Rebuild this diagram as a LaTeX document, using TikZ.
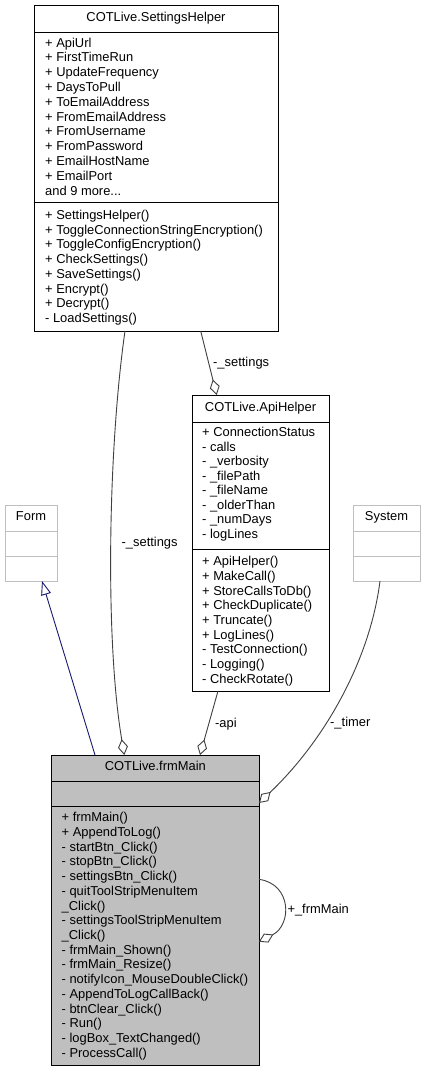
\documentclass[tikz,border=0pt]{standalone}
\usepackage{fontspec}
\setmainfont{Liberation Sans}
\usetikzlibrary{arrows.meta,calc}
\definecolor{edgegray}{RGB}{64,64,64}
\definecolor{boxgray}{RGB}{191,191,191}
\definecolor{navyline}{RGB}{25,25,112}
\newcommand\mdots{...}
\newcommand\memberlist[5]{%
  \foreach \mtext [count=\mi from 0] in {#5}{%
    \node[member] (#1\mi) at (#2,{#3+\mi*#4}) {\mtext};}}
\tikzset{
  every node/.style={font=\fontsize{12.9}{14}\selectfont},
  member/.style={inner sep=0pt, anchor=base west},
  titletext/.style={inner sep=0pt, anchor=base},
  edgelabel/.style={inner sep=0pt, anchor=base west},
  clsbox/.style={draw=black, line width=1pt, inner sep=0pt, outer sep=0pt, anchor=north west},
  extbox/.style={clsbox, draw=boxgray},
  sepline/.style={line width=1pt},
  aggr/.style={draw=edgegray, line width=0.9pt, -{Diamond[length=16pt,width=10pt,fill=white]}},
  inherit/.style={draw=navyline, line width=0.9pt, -{Triangle[length=14pt,width=10pt,fill=white]}}
}
\begin{document}
\begin{tikzpicture}[x=1pt,y=-1pt]
\useasboundingbox (0,0) rectangle (426,1072);
\fill[white] (0,0) rectangle (426,1072);

% SettingsHelper
\node[clsbox, minimum width=244pt, minimum height=326pt] (sh) at (34,5) {};
\draw[sepline] ($(sh.north west)+(0,27)$) -- ($(sh.north east)+(0,27)$);
\draw[sepline] ($(sh.north west)+(0,197)$) -- ($(sh.north east)+(0,197)$);
\node[titletext] (shT) at (156,21.7) {COTLive.SettingsHelper};
\memberlist{sha}{45}{47}{14.8}{+ ApiUrl,+ FirstTimeRun,+ UpdateFrequency,+ DaysToPull,+ ToEmailAddress,+ FromEmailAddress,+ FromUsername,+ FromPassword,+ EmailHostName,+ EmailPort,and 9 more\mdots}
\memberlist{shm}{45}{219.3}{14.77}{+ SettingsHelper(),+ ToggleConnectionStringEncryption(),+ ToggleConfigEncryption(),+ CheckSettings(),+ SaveSettings(),+ Encrypt(),+ Decrypt(),- LoadSettings()}

% ApiHelper
\node[clsbox, minimum width=137pt, minimum height=296pt] (api) at (192,395) {};
\draw[sepline] ($(api.north west)+(0,27)$) -- ($(api.north east)+(0,27)$);
\draw[sepline] ($(api.north west)+(0,154)$) -- ($(api.north east)+(0,154)$);
\node[titletext] (apiT) at (260.5,411.7) {COTLive.ApiHelper};
\memberlist{apia}{202}{436.7}{14.5}{+ ConnectionStatus,- calls,- \_verbosity,- \_filePath,- \_fileName,- \_olderThan,- \_numDays,- logLines}
\memberlist{apim}{202}{565.7}{14.7}{+ ApiHelper(),+ MakeCall(),+ StoreCallsToDb(),+ CheckDuplicate(),+ Truncate(),+ LogLines(),- TestConnection(),- Logging(),- CheckRotate()}

% Form
\node[extbox, minimum width=52pt, minimum height=76pt] (form) at (5,505) {};
\draw[sepline, boxgray] ($(form.north west)+(0,26)$) -- ($(form.north east)+(0,26)$);
\draw[sepline, boxgray] ($(form.north west)+(0,51)$) -- ($(form.north east)+(0,51)$);
\node[titletext] (formT) at (31,520.7) {Form};

% System
\node[extbox, minimum width=67pt, minimum height=76pt] (sys) at (353,505) {};
\draw[sepline, boxgray] ($(sys.north west)+(0,26)$) -- ($(sys.north east)+(0,26)$);
\draw[sepline, boxgray] ($(sys.north west)+(0,51)$) -- ($(sys.north east)+(0,51)$);
\node[titletext] (sysT) at (386.5,520.7) {System};

% frmMain
\node[clsbox, fill=boxgray, minimum width=207.3pt, minimum height=310pt] (fm) at (51.7,755) {};
\draw[sepline] ($(fm.north west)+(0,26)$) -- ($(fm.north east)+(0,26)$);
\draw[sepline] ($(fm.north west)+(0,51)$) -- ($(fm.north east)+(0,51)$);
\node[titletext] (fmT) at (155.3,770.7) {COTLive.frmMain};
\memberlist{fmm}{61.5}{821.7}{14.72}{+ frmMain(),+ AppendToLog(),- startBtn\_Click(),- stopBtn\_Click(),- settingsBtn\_Click(),- quitToolStripMenuItem,\_Click(),- settingsToolStripMenuItem,\_Click(),- frmMain\_Shown(),- frmMain\_Resize(),- notifyIcon\_MouseDoubleClick(),- AppendToLogCallBack(),- btnClear\_Click(),- Run(),- logBox\_TextChanged(),- ProcessCall()}

% connector end points
\coordinate (shS1) at ($(sh.south west)+(91,0)$);
\coordinate (shS2) at ($(sh.south west)+(166.7,0)$);
\coordinate (apiN) at ($(api.north west)+(24.7,0)$);
\coordinate (apiS) at ($(api.south west)+(26,0)$);
\coordinate (formS) at ($(form.south west)+(37,0)$);
\coordinate (sysS) at ($(sys.south west)+(27,0)$);
\coordinate (fmN1) at ($(fm.north west)+(43.3,0)$);
\coordinate (fmN2) at ($(fm.north west)+(72.6,0)$);
\coordinate (fmN3) at ($(fm.north west)+(148.3,0)$);
\coordinate (fmE1) at ($(fm.north east)+(0,48)$);
\coordinate (fmE2) at ($(fm.north east)+(0,124.3)$);
\coordinate (fmE3) at ($(fm.north east)+(0,186.7)$);

% connectors
\draw[inherit] (fmN1) -- (formS);
\draw[aggr] (shS1) .. controls (108,450) and (105,640) .. (fmN2);
\draw[aggr] (shS2) -- (apiN);
\draw[aggr] (apiS) -- (fmN3);
\draw[aggr] (sysS) .. controls (370,660) and (325,740) .. (fmE1);
\draw[aggr] (fmE2) .. controls (292,884) and (292,925) .. (fmE3);

% labels
\node[edgelabel] (l1) at (121.5,546.7) {-\_settings};
\node[edgelabel] (l2) at (213,366.7) {-\_settings};
\node[edgelabel] (l3) at (215,727.3) {-api};
\node[edgelabel] (l4) at (330,726.7) {-\_timer};
\node[edgelabel] (l5) at (287.3,913.3) {+\_frmMain};
\end{tikzpicture}
\end{document}
